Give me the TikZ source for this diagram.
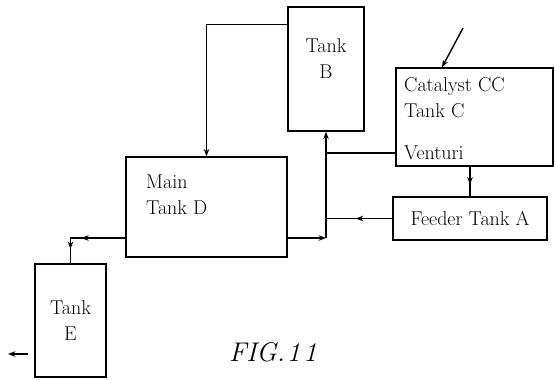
\documentclass[tikz,border=0pt]{standalone}
\usepackage{tikz}
\usetikzlibrary{arrows.meta,positioning,calc,decorations.markings}

\begin{document}
\begin{tikzpicture}[
    x=1pt, y=-1pt,
    tank/.style={rectangle, draw, line width=1.4pt, inner sep=0pt, align=center,
                 font=\fontsize{20}{26}\selectfont},
    lbl/.style={inner sep=0pt, align=left, font=\fontsize{20}{26}\selectfont},
    flow/.style={-{Stealth[length=2.6mm]}, line width=1.4pt},
    pipe/.style={line width=1.4pt},
    midarr/.style={postaction={decorate}, decoration={markings,
                   mark=at position #1 with {\arrow{Stealth[length=2.6mm]}}}},
    twoarr/.style 2 args={postaction={decorate}, decoration={markings,
                   mark=at position #1 with {\arrow{Stealth[length=2.6mm]}},
                   mark=at position #2 with {\arrow{Stealth[length=2.6mm]}}}},
]
    \useasboundingbox (0,0) rectangle (555,380);
    % Tanks
    \node[tank, minimum width=76pt,  minimum height=124pt] (tankB) at (326,69) {};
    \node[tank, minimum width=157pt, minimum height=98pt]  (catC)  at (474.5,117) {};
    \node[tank, minimum width=154pt, minimum height=43pt]  (feeder) at (470,218.5) {Feeder Tank A};
    \node[tank, minimum width=161pt, minimum height=100pt] (mainD) at (206.5,207) {};
    \node[tank, minimum width=71pt,  minimum height=113pt] (tankE) at (70.5,320.5) {Tank\\E};
    % Labels inside the boxes
    \node[lbl, align=center] (tankBlbl) at (326,59) {Tank\\B};
    \node[lbl, anchor=west] (catlbl) at (404,98) {Catalyst CC\\Tank C};
    \node[lbl, anchor=west] (venturi) at (404,153) {Venturi};
    \node[lbl, anchor=west] (mainlbl) at (146,195) {Main\\Tank D};
    % Junction points
    \coordinate (jlow) at (326,238);
    \coordinate (out)  at (8,354);
    \coordinate (feed) at (463,28);
    % Tank B to Main Tank D (top)
    \draw[flow] ([yshift=-18pt]tankB.north west) -| (mainD.north);
    % Main Tank D to riser, riser up to Tank B
    \draw[flow] (mainD.east |- jlow) -- (jlow);
    \draw[flow] (jlow) -- (tankB.south);
    % Venturi line into riser
    \draw[pipe] (catC.west |- venturi) -- (tankB.south |- venturi);
    % Catalyst tank down to feeder, feeder back to riser
    \draw[pipe, midarr=0.6] (feeder.north |- catC.south) -- (feeder.north);
    \draw[pipe, midarr=0.55] (feeder.west) -- (tankB.south |- feeder.west);
    % Main Tank D to Tank E
    \draw[pipe, twoarr={0.55}{0.82}] (mainD.west |- jlow) -| (tankE.north);
    % Outlet of Tank E and catalyst inlet
    \draw[flow] ([xshift=-6pt]tankE.west |- out) -- (out);
    \draw[flow] (feed) -- ([xshift=-32.5pt]catC.north);
    % Caption
    \node[font=\fontsize{27}{30}\selectfont\itshape] (figlbl) at (273,352) {FIG.\kern2pt1\kern3pt1};
\end{tikzpicture}
\end{document}
